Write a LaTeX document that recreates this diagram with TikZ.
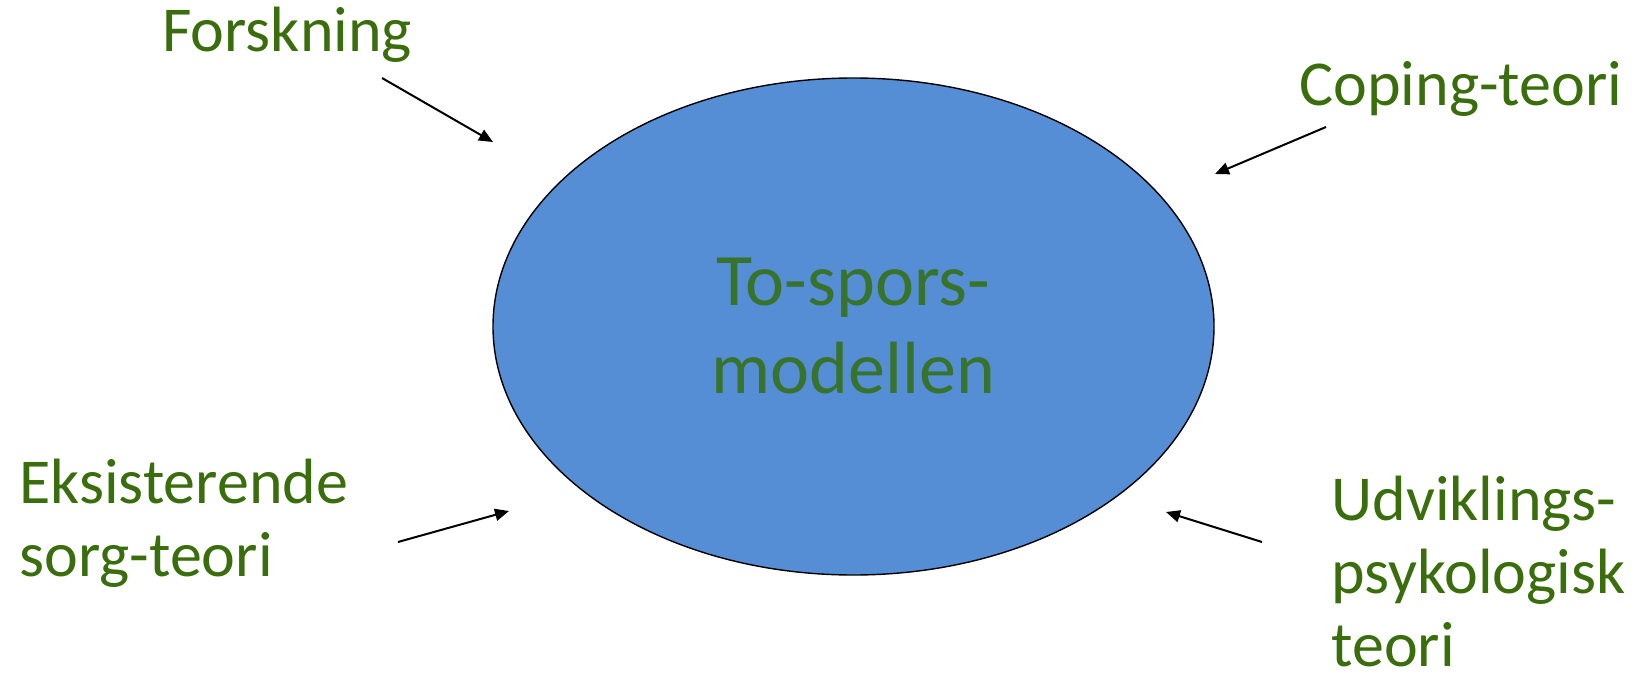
\documentclass[tikz,border=0pt]{standalone}
\usepackage{fontspec}
\setmainfont{Carlito}
\usepackage{xcolor}
\usetikzlibrary{shapes.geometric,arrows.meta}
\definecolor{theoryGreen}{HTML}{3A6D0C}
\definecolor{modelGreen}{HTML}{37732B}
\definecolor{modelBlue}{HTML}{558ED5}
\tikzset{
    model-ellipse/.style = {ellipse, draw=black, line width=0.7pt, fill=modelBlue, minimum width=360.5pt, minimum height=248.5pt, inner sep=0pt},
    model-title/.style = {text=modelGreen, font=\fontsize{37}{44}\selectfont, align=center},
    theory-label/.style = {text=theoryGreen, font=\fontsize{32}{36.5}\selectfont, align=left, inner sep=0pt, anchor=base west},
    feed-arrow/.style = {-{Triangle[length=7pt,width=6pt]}, line width=1pt, black},
}

\begin{document}
\begin{tikzpicture}[x=0.5pt, y=-0.5pt]
\useasboundingbox (0,0) rectangle (1639,674);

\node [model-ellipse] (model) at (853.5,326.5) {};
\node [model-title] (title) at (853.5,326.5) {To-spors-\\modellen};

% base anchor sits on the last line
\node [theory-label] (research) at (162,52) {Forskning};
\node [theory-label] (coping) at (1299,105) {Coping-teori};
\node [theory-label] (grief) at (19,576) {Eksisterende\\sorg-teori};
\node [theory-label, text depth=0pt] (develop) at (1331,666) {Udviklings-\\psykologisk\\teori};

% arrow ends
\coordinate (research-out) at (382,78);
\coordinate (research-in) at (493,142);
\coordinate (coping-out) at (1326,127);
\coordinate (coping-in) at (1215,174);
\coordinate (grief-out) at (398,542);
\coordinate (grief-in) at (509,511);
\coordinate (develop-out) at (1262,542);
\coordinate (develop-in) at (1166,512);

\draw [feed-arrow] (research-out) -- (research-in);
\draw [feed-arrow] (coping-out) -- (coping-in);
\draw [feed-arrow] (grief-out) -- (grief-in);
\draw [feed-arrow] (develop-out) -- (develop-in);
\end{tikzpicture}
\end{document}
